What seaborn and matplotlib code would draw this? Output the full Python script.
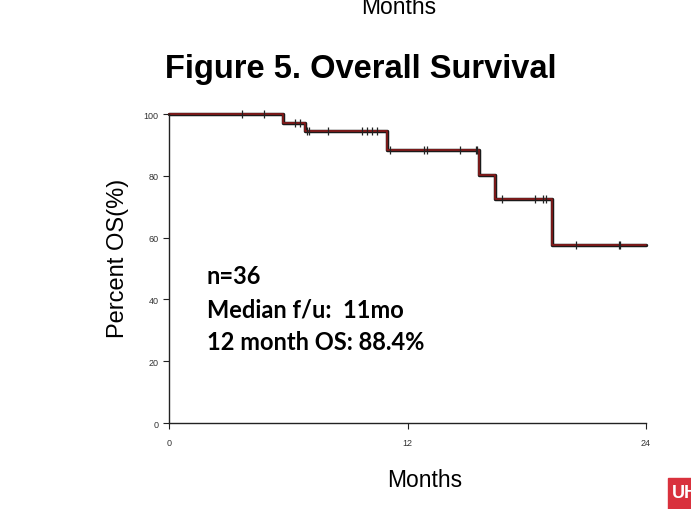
import numpy as np
import pandas as pd
import matplotlib
matplotlib.use('Agg')
import matplotlib.pyplot as plt
import matplotlib.patheffects as pe
from matplotlib.patches import Rectangle
import seaborn as sns

# Kaplan-Meier step values (months, percent OS)
step_months = [0, 5.74, 6.84, 10.97, 15.6, 16.4, 19.27, 24]
step_survival = [100, 97.2, 94.4, 88.4, 80.2, 72.5, 57.6, 57.6]

# censored observations
censor_months = [3.66, 4.78, 6.34, 6.59, 6.93, 7.05, 7.98, 9.71, 9.95, 10.2, 10.45,
                 11.12, 12.85, 12.96, 14.64, 15.45, 15.51, 16.77, 18.42, 18.84, 18.95,
                 20.48, 22.64, 22.7]

x_ticks = [0, 12, 24]
y_ticks = [0, 20, 40, 60, 80, 100]
notes = ['n=36', 'Median f/u:  11mo', '12 month OS: 88.4%']

sns.set_style('ticks')
plt.rcParams['font.family'] = ['Liberation Sans', 'DejaVu Sans']

curve = pd.DataFrame({'Months': step_months, 'OS': step_survival})
idx = np.searchsorted(step_months, censor_months, side='right') - 1
censored = pd.DataFrame({'Months': censor_months,
                         'OS': [step_survival[i] for i in idx]})

fig = plt.figure(figsize=(6.91, 5.10), dpi=100)
ax = fig.add_axes([0.2446, 0.1686, 0.6903, 0.6059])

sns.lineplot(data=curve, x='Months', y='OS', drawstyle='steps-post', color='#8b1a1a',
             linewidth=1.2, ax=ax, clip_on=False,
             path_effects=[pe.Stroke(linewidth=2.5, foreground='#1a1a1a'), pe.Normal()])
sns.scatterplot(data=censored, x='Months', y='OS', marker='|', color='#222222',
                s=26, linewidth=0.9, ax=ax, clip_on=False, zorder=3)

ax.set_xlim(0, 24)
ax.set_ylim(0, 100)
ax.set_xticks(x_ticks)
ax.set_yticks(y_ticks)
ax.tick_params(labelsize=6.5, colors='#222222', length=4, width=0.8, labelcolor='#333333')
ax.tick_params(axis='x', pad=7)
sns.despine(ax=ax)
for s in ['left', 'bottom']:
    ax.spines[s].set_linewidth(1.0)
    ax.spines[s].set_color('#222222')
ax.set_xlabel('')
ax.set_ylabel('')

fig.text(425 / 691, 1 - 481 / 510, 'Months', ha='center', va='center',
         fontsize=16.5, color='black')
fig.text(118 / 691, 1 - 258 / 510, 'Percent OS(%)', ha='center', va='center',
         rotation=90, fontsize=17, color='black')
fig.text(399 / 691, 1 - 14 / 510, 'Months', ha='center', va='baseline',
         fontsize=16.5, color='black')
fig.text(361 / 691, 1 - 70 / 510, 'Figure 5. Overall Survival', ha='center', va='center',
         fontsize=23.5, fontweight='bold', color='black')

note_y = [277, 310, 343]
for line, y in zip(notes, note_y):
    fig.text(207 / 691, 1 - y / 510, line, ha='left', va='center', color='black',
             fontsize=17, fontweight='bold', family=['Lato', 'DejaVu Sans'])

# logo fragment in the corner
fig.patches.append(Rectangle((668 / 691, 0), 23 / 691, 31 / 510, transform=fig.transFigure,
                             color='#d9313d', zorder=5))
fig.text(672 / 691, 1 - 494 / 510, 'UH', ha='left', va='center', color='white',
         fontsize=13, fontweight='bold', zorder=6)

fig.savefig('out.png', dpi=100)
